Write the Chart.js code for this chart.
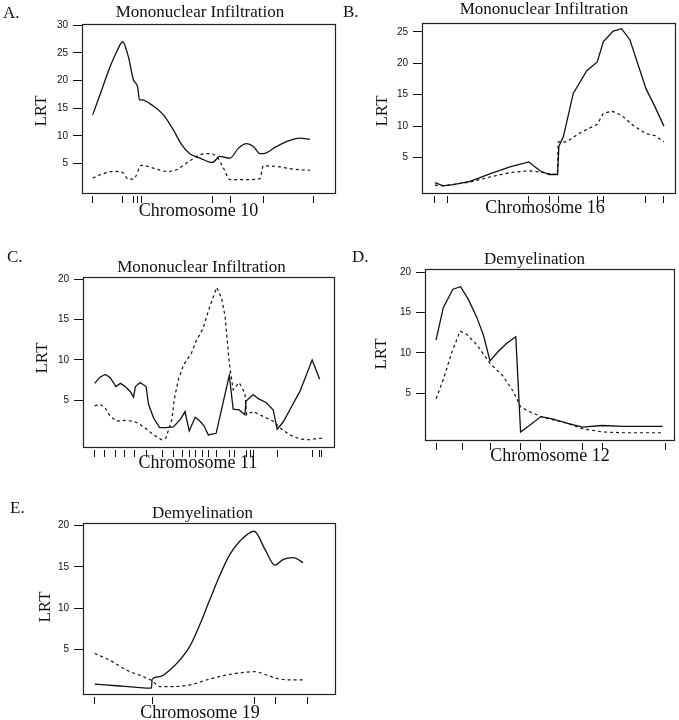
<!DOCTYPE html>
<html>
<head>
<meta charset="utf-8">
<script src="https://cdn.jsdelivr.net/npm/chart.js@4.4.1/dist/chart.umd.min.js"></script>
<style>
    html, body { margin: 0; padding: 0; background: #fff; width: 679px; height: 720px; overflow: hidden; }
    body { position: relative; }
    canvas { position: absolute; }
</style>
</head>
<body>
<canvas id="panelA"></canvas>
<canvas id="panelB"></canvas>
<canvas id="panelC"></canvas>
<canvas id="panelD"></canvas>
<canvas id="panelE"></canvas>
<script>
(function() {
    'use strict';

    // A. Chromosome 10 (positions in cM)
    var chr10Markers = [0, 10, 13.6, 15, 16.3, 39.9, 45.8, 56.9, 73.6];
    var chr10SolidX = [0, 3, 5.8, 8, 10, 11.9, 13.6, 15, 15.6, 16.3, 20.2, 23.6, 26.9, 29.7, 32.4, 35.8, 39.9, 42.4, 45.8, 48.6, 51.3, 53.6, 55.8, 56.9, 61.3, 65.8, 69.1, 72.4];
    var chr10SolidY = [13.8, 18.3, 22.5, 25.2, 27.0, 24.3, 20.1, 18.8, 16.5, 16.5, 15.4, 13.8, 11.1, 8.4, 6.8, 6.0, 5.2, 6.3, 6.0, 7.8, 8.6, 8.1, 6.8, 6.8, 8.1, 9.2, 9.6, 9.4];
    var chr10DashX = [0, 3.6, 6.9, 10, 11.9, 13.6, 16.3, 20.2, 24.7, 28, 31.3, 35.8, 38.6, 41.3, 43.6, 45.8, 51.3, 55.8, 56.9, 61.3, 66.9, 72.4];
    var chr10DashY = [2.4, 3.2, 3.6, 3.4, 2.2, 2.2, 4.7, 4.2, 3.6, 3.9, 5.1, 6.6, 6.8, 6.3, 4.2, 2.1, 2.1, 2.3, 4.6, 4.5, 4.0, 3.8];

    // B. Chromosome 16
    var chr16Markers = [0, 4.2, 31.3, 38.1, 41.1, 54.1, 56.1, 70.3, 76.3];
    var chr16SolidX = [0, 2.8, 6.1, 11.7, 18.3, 25, 31.3, 35, 38.1, 40.9, 41.3, 42.8, 46.1, 50.6, 54.1, 56.1, 59.4, 62.2, 65, 70.3, 73.3, 76.3];
    var chr16SolidY = [1.0, 0.5, 0.7, 1.2, 2.4, 3.5, 4.3, 2.9, 2.3, 2.3, 6.8, 8.3, 15.2, 18.8, 20.2, 23.4, 25.1, 25.5, 23.7, 16.0, 13.1, 10.0];
    var chr16DashX = [0, 2.8, 11.7, 18.3, 25, 31.3, 35, 38.1, 40.8, 41.1, 43.9, 48.3, 54.1, 56.1, 58.9, 62.2, 66.1, 70.3, 73.3, 76.3];
    var chr16DashY = [0.6, 0.5, 1.1, 1.9, 2.6, 2.9, 2.7, 2.4, 2.3, 7.5, 7.5, 8.9, 10.3, 12.0, 12.4, 11.7, 10.1, 8.8, 8.5, 7.5];

    // C. Chromosome 11
    var chr11Markers = [0, 3.3, 7.1, 10, 13.3, 17.4, 22.8, 26.3, 29.4, 31.7, 33.6, 35.9, 38.1, 40.6, 45.2, 46.9, 50.6, 52.1, 53, 61, 72.7, 75, 75.8];
    var chr11SolidX = [0, 1.9, 3.6, 5.2, 7.1, 8.6, 10.2, 11.9, 13, 13.6, 15.2, 17.2, 18, 19.7, 21.7, 23.9, 26.3, 28.6, 30.2, 31.6, 33.6, 35.2, 36.6, 38, 40.6, 42.8, 45, 46.3, 48.3, 50.2, 50.6, 53, 54.7, 57.4, 59.7, 61, 63, 65.2, 68.6, 72.7, 75.2];
    var chr11SolidY = [7.1, 7.9, 8.2, 7.8, 6.7, 7.1, 6.7, 6.1, 5.4, 6.7, 7.2, 6.7, 4.5, 2.8, 1.6, 1.6, 1.7, 2.6, 3.6, 1.2, 2.9, 2.4, 1.8, 0.7, 0.9, 4.5, 8.1, 3.9, 3.8, 3.2, 4.9, 5.7, 5.2, 4.7, 3.8, 1.4, 2.3, 3.8, 6.1, 10.0, 7.6];
    var chr11DashX = [0, 1.9, 3.6, 5.2, 7.4, 10.2, 13, 15.2, 17.4, 19.7, 22.4, 23.8, 25.8, 26.6, 28, 29.7, 30.8, 32.4, 34.1, 35.2, 36.3, 38, 39.7, 40.8, 42.4, 43.6, 45, 46.3, 48.3, 50.2, 50.8, 53, 56.3, 59.7, 61.9, 65.2, 68.6, 71.9, 73.6, 76];
    var chr11DashY = [4.3, 4.5, 4.0, 3.0, 2.4, 2.5, 2.4, 2.0, 1.4, 0.7, 0.1, 0.3, 2.6, 5.1, 7.6, 9.4, 10.0, 10.9, 12.5, 13.2, 14.0, 16.1, 17.9, 19.0, 17.7, 15.4, 9.6, 6.3, 7.2, 5.9, 3.2, 3.6, 3.0, 2.4, 1.6, 0.7, 0.2, 0.1, 0.2, 0.3];

    // D. Chromosome 12
    var chr12Markers = [0, 8.8, 18, 28.2, 35, 48.9, 55.4, 76.7];
    var chr12SolidX = [0, 2.4, 5.6, 8.2, 10.8, 13.6, 15.8, 18, 20.8, 23.6, 26.6, 28.2, 30.8, 35, 39.1, 43.6, 48.9, 55.4, 62.4, 68, 75.6];
    var chr12SolidY = [11.6, 15.6, 17.9, 18.2, 16.6, 14.4, 12.2, 9.0, 10.2, 11.2, 12.0, 0.2, 0.9, 2.1, 1.8, 1.3, 0.8, 1.0, 0.9, 0.9, 0.9];
    var chr12DashX = [0, 2.4, 5.2, 8, 10.2, 13.6, 18, 22.4, 25.8, 28.2, 31.3, 35, 39.1, 43.6, 48.9, 55.4, 62.4, 75.6];
    var chr12DashY = [4.3, 6.7, 10.0, 12.7, 12.3, 11.0, 8.7, 7.1, 5.2, 3.3, 2.7, 2.1, 1.7, 1.3, 0.6, 0.2, 0.1, 0.1];

    // E. Chromosome 19
    var chr19Markers = [0, 19.1, 53.3, 60.3, 70.9];
    var chr19SolidX = [0, 7.2, 13.9, 18.9, 19.1, 21.7, 25, 28.3, 31.7, 35, 38.3, 41.7, 45, 48.3, 53.1, 56.7, 60, 62.8, 66.1, 69.4];
    var chr19SolidY = [0.8, 0.6, 0.4, 0.3, 1.4, 1.7, 2.5, 3.7, 5.4, 8.0, 11.0, 14.0, 16.5, 18.1, 19.3, 17.1, 15.2, 15.9, 16.1, 15.5];
    var chr19DashX = [0, 5, 10.6, 16.1, 19.1, 21.7, 26.1, 31.7, 37.2, 43.9, 49.4, 53.3, 57.2, 60.6, 65, 69.4];
    var chr19DashY = [4.5, 3.7, 2.5, 1.7, 1.2, 0.5, 0.5, 0.7, 1.3, 1.9, 2.2, 2.3, 1.9, 1.5, 1.3, 1.3];

    var lrtTicks20 = [5, 10, 15, 20];
    var lrtTicks25 = [5, 10, 15, 20, 25];
    var lrtTicks30 = [5, 10, 15, 20, 25, 30];

    var SERIF = "'Liberation Serif', 'Times New Roman', serif";
    var INK = '#111';
    var PAD_L = 82, PAD_T = 32, PAD_R = 6, PAD_B = 30;

    function pts(xs, ys) {
        return xs.map(function(x, i) { return { x: x, y: ys[i] }; });
    }

    // frame round the plot area + panel texts (page coordinates)
    var panelDeco = {
        id: 'panelDeco',
        afterDraw: function(chart, args, opts) {
            var a = chart.chartArea, ctx = chart.ctx;
            ctx.save();
            ctx.strokeStyle = '#222';
            ctx.lineWidth = 1.2;
            ctx.strokeRect(Math.round(a.left) + 0.5, Math.round(a.top) + 0.5,
                Math.round(a.right - a.left), Math.round(a.bottom - a.top));
            ctx.fillStyle = INK;
            (opts.texts || []).forEach(function(t) {
                var x = t.x - opts.ox, y = t.y - opts.oy;
                ctx.font = t.size + 'px ' + SERIF;
                if (t.rotate) {
                    ctx.save();
                    ctx.translate(x, y);
                    ctx.rotate(-Math.PI / 2);
                    ctx.textAlign = 'center';
                    ctx.textBaseline = 'middle';
                    ctx.fillText(t.text, 0, 0);
                    ctx.restore();
                } else {
                    ctx.textAlign = t.align || 'center';
                    ctx.textBaseline = 'alphabetic';
                    ctx.fillText(t.text, x, y);
                }
            });
            ctx.restore();
        }
    };

    function panel(id, box, p) {
        var cv = document.getElementById(id);
        var left = box[0] - PAD_L, top = box[1] - PAD_T;
        var w = box[2] - box[0] + PAD_L + PAD_R;
        var h = box[3] - box[1] + PAD_T + PAD_B;
        cv.width = w; cv.height = h;
        cv.style.left = left + 'px'; cv.style.top = top + 'px';
        cv.style.width = w + 'px'; cv.style.height = h + 'px';

        var interp = p.smooth ? 'monotone' : 'default';

        new Chart(cv, {
            type: 'line',
            data: {
                datasets: [
                    {
                        label: 'solid',
                        data: pts(p.solidX, p.solidY),
                        borderColor: INK,
                        borderWidth: 1.3,
                        pointRadius: 0,
                        cubicInterpolationMode: interp,
                        tension: 0
                    },
                    {
                        label: 'dashed',
                        data: pts(p.dashX, p.dashY),
                        borderColor: INK,
                        borderWidth: 1.2,
                        borderDash: [3, 3],
                        pointRadius: 0,
                        cubicInterpolationMode: interp,
                        tension: 0
                    }
                ]
            },
            options: {
                responsive: false,
                animation: false,
                events: [],
                layout: { padding: { left: 0, top: PAD_T, right: PAD_R, bottom: 0 } },
                plugins: {
                    legend: { display: false },
                    tooltip: { enabled: false },
                    title: { display: false },
                    panelDeco: { ox: left, oy: top, texts: p.texts }
                },
                scales: {
                    x: {
                        type: 'linear',
                        min: p.xMin,
                        max: p.xMax,
                        afterBuildTicks: function(s) {
                            s.ticks = p.markers.map(function(v) { return { value: v }; });
                        },
                        afterFit: function(s) { s.height = PAD_B; },
                        ticks: { display: false },
                        border: { display: false },
                        grid: {
                            drawOnChartArea: false,
                            drawTicks: true,
                            tickLength: 10,
                            tickColor: INK,
                            tickWidth: 1,
                            tickBorderDash: [0, 3, 7, 60]
                        }
                    },
                    y: {
                        min: p.yMin,
                        max: p.yMax,
                        afterBuildTicks: function(s) {
                            s.ticks = p.yTicks.map(function(v) { return { value: v }; });
                        },
                        afterFit: function(s) { s.width = PAD_L; },
                        ticks: {
                            autoSkip: false,
                            padding: 5,
                            color: INK,
                            font: { family: "'Liberation Sans', Arial, sans-serif", size: 10 }
                        },
                        border: { display: false },
                        grid: { drawOnChartArea: false, tickLength: 9, tickColor: INK, tickWidth: 1 }
                    }
                }
            },
            plugins: [panelDeco]
        });
    }

    panel('panelA', [82, 24, 335, 193], {
        markers: chr10Markers, solidX: chr10SolidX, solidY: chr10SolidY, dashX: chr10DashX, dashY: chr10DashY,
        xMin: -3.56, xMax: 80.8, yMin: -0.3, yMax: 30.2, yTicks: lrtTicks30, smooth: true,
        texts: [
            { text: 'A.', x: 3, y: 17.5, size: 17, align: 'left' },
            { text: 'Mononuclear Infiltration', x: 200, y: 17.3, size: 17 },
            { text: 'Chromosome 10', x: 198.5, y: 216, size: 18 },
            { text: 'LRT', x: 42, y: 111, size: 17, rotate: true }
        ]
    });

    panel('panelB', [422, 23, 675, 193], {
        markers: chr16Markers, solidX: chr16SolidX, solidY: chr16SolidY, dashX: chr16DashX, dashY: chr16DashY,
        xMin: -4.3, xMax: 80, yMin: -0.64, yMax: 26.4, yTicks: lrtTicks25,
        texts: [
            { text: 'B.', x: 343, y: 16.7, size: 17, align: 'left' },
            { text: 'Mononuclear Infiltration', x: 544, y: 14, size: 17 },
            { text: 'Chromosome 16', x: 545, y: 213.3, size: 18 },
            { text: 'LRT', x: 382.5, y: 111, size: 17, rotate: true }
        ]
    });

    panel('panelC', [83, 277, 334, 447], {
        markers: chr11Markers, solidX: chr11SolidX, solidY: chr11SolidY, dashX: chr11DashX, dashY: chr11DashY,
        xMin: -3.9, xMax: 80, yMin: -0.8, yMax: 20.3, yTicks: lrtTicks20,
        texts: [
            { text: 'C.', x: 7, y: 261.7, size: 17, align: 'left' },
            { text: 'Mononuclear Infiltration', x: 201.5, y: 271.7, size: 17 },
            { text: 'Chromosome 11', x: 198, y: 468.3, size: 18 },
            { text: 'LRT', x: 43, y: 358, size: 17, rotate: true }
        ]
    });

    panel('panelD', [425, 269, 674, 440], {
        markers: chr12Markers, solidX: chr12SolidX, solidY: chr12SolidY, dashX: chr12DashX, dashY: chr12DashY,
        xMin: -3.7, xMax: 79.4, yMin: -0.8, yMax: 20.4, yTicks: lrtTicks20,
        texts: [
            { text: 'D.', x: 352, y: 261.7, size: 17, align: 'left' },
            { text: 'Demyelination', x: 534.5, y: 264, size: 17 },
            { text: 'Chromosome 12', x: 550, y: 460.7, size: 18 },
            { text: 'LRT', x: 382, y: 354, size: 17, rotate: true }
        ]
    });

    panel('panelE', [83, 523, 335, 694], {
        markers: chr19Markers, solidX: chr19SolidX, solidY: chr19SolidY, dashX: chr19DashX, dashY: chr19DashY,
        xMin: -3.9, xMax: 80, yMin: -0.4, yMax: 20.3, yTicks: lrtTicks20, smooth: true,
        texts: [
            { text: 'E.', x: 10, y: 512.7, size: 17, align: 'left' },
            { text: 'Demyelination', x: 202.5, y: 518.3, size: 17 },
            { text: 'Chromosome 19', x: 200, y: 718, size: 18 },
            { text: 'LRT', x: 46, y: 607, size: 17, rotate: true }
        ]
    });
})();
</script>
</body>
</html>
